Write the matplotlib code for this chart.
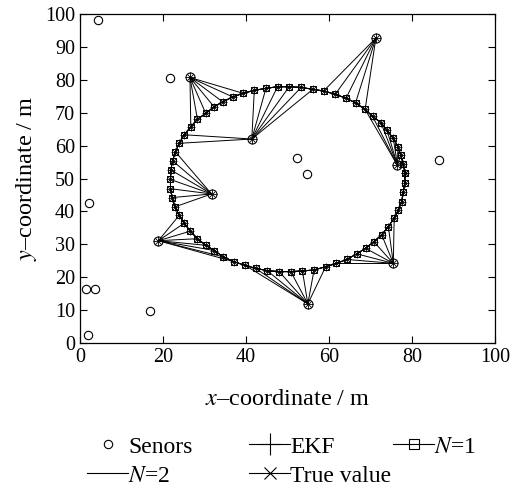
import matplotlib
matplotlib.use('Agg')
import matplotlib.pyplot as plt
from matplotlib.lines import Line2D

plt.rcParams['font.family'] = ['Liberation Serif', 'DejaVu Serif']
plt.rcParams['mathtext.fontset'] = 'stix'

# Trajectory points
traj_x = [78.3, 77.9, 77.3, 76.6, 75.5, 74.0, 72.5, 70.5, 68.7, 66.4, 64.1, 61.5, 58.7, 56.1, 53.3,
          50.4, 47.6, 44.8, 42.0, 39.3, 36.8, 34.4, 32.3, 30.3, 28.3, 26.7, 25.1, 23.9, 23.0, 22.3,
          21.9, 21.8, 21.8, 22.2, 22.9, 23.9, 25.1, 26.6, 28.3, 30.3, 32.4, 34.5, 37.1, 39.8, 42.3,
          45.1, 48.0, 50.8, 53.6, 56.4, 59.2, 61.8, 64.3, 66.7, 68.8, 70.8, 72.7, 74.3, 75.7, 76.7,
          77.5, 77.9, 78.3, 78.3]
traj_y = [51.6, 54.4, 57.1, 59.7, 62.2, 64.6, 67.0, 68.9, 71.0, 73.0, 74.4, 75.6, 76.6, 77.1, 77.7,
          77.9, 77.9, 77.4, 76.8, 75.9, 74.8, 73.3, 71.8, 69.8, 68.0, 65.7, 63.3, 60.7, 58.1, 55.4,
          52.6, 49.7, 46.9, 44.2, 41.4, 38.8, 36.4, 34.0, 31.7, 29.7, 28.1, 26.2, 24.7, 23.6, 22.7,
          22.0, 21.7, 21.7, 21.9, 22.2, 23.2, 24.2, 25.4, 27.1, 28.8, 30.8, 32.9, 35.4, 37.9, 40.4,
          42.9, 46.0, 48.7, 51.6]

# Sensors (free)
sensor_x = [4.3, 21.7, 2.2, 1.4, 3.6, 16.9, 1.9, 52.3, 54.7, 86.5]
sensor_y = [98.2, 80.5, 42.5, 16.4, 16.4, 9.7, 2.4, 56.2, 51.4, 55.6]

# Anchor sensors used for measurements
anchor_x = [26.5, 41.4, 71.3, 76.5, 31.7, 18.9, 54.9, 75.5]
anchor_y = [80.7, 62.0, 92.7, 54.0, 45.3, 31.1, 11.9, 24.2]
# trajectory point indices linked to each anchor
anchor_links = [
    list(range(19, 26)),
    list(range(13, 19)) + [26, 27],
    list(range(8, 13)),
    list(range(2, 9)),
    list(range(28, 35)),
    list(range(35, 43)),
    list(range(43, 51)),
    list(range(51, 59)),
]

fig = plt.figure(figsize=(5.14, 4.86), dpi=100)
ax = fig.add_axes([80 / 514, 1 - 343 / 486, 415 / 514, 329 / 486])

lw = 0.7
for axx, ayy, links in zip(anchor_x, anchor_y, anchor_links):
    for i in links:
        ax.plot([axx, traj_x[i]], [ayy, traj_y[i]], color='black', lw=lw)

ax.plot(traj_x, traj_y, color='black', lw=lw, marker='+', ms=6, mew=0.6)
ax.plot(traj_x, traj_y, color='black', lw=lw, marker='s', ms=5, mfc='none', mew=0.7)
ax.plot(traj_x, traj_y, color='black', lw=lw, marker='x', ms=4.5, mew=0.6)
ax.plot(traj_x, traj_y, color='black', lw=lw)

ax.plot(anchor_x, anchor_y, ls='none', marker='+', ms=7, mew=0.6, color='black')
ax.plot(anchor_x, anchor_y, ls='none', marker='x', ms=5, mew=0.6, color='black')
ax.plot(anchor_x, anchor_y, ls='none', marker='o', ms=6.5, mfc='none', mew=0.8, color='black')
ax.plot(sensor_x, sensor_y, ls='none', marker='o', ms=6, mfc='none', mew=0.8, color='black')

ax.set_xlim(0, 100)
ax.set_ylim(0, 100)
ax.set_xticks(range(0, 101, 20))
ax.set_yticks(range(0, 101, 10))
ax.tick_params(direction='in', top=True, right=True, length=5, width=0.8, labelsize=14.5)
for s in ax.spines.values():
    s.set_linewidth(0.9)

ax.set_xlabel('$x$\u2013coordinate / m', fontsize=17.5, labelpad=16)
ax.set_ylabel('$y$\u2013coordinate / m', fontsize=17.5, labelpad=4)

h_sen = Line2D([], [], ls='none', marker='o', ms=6, mfc='none', mew=0.8, color='black')
h_ekf = Line2D([], [], color='black', lw=0.8, marker='+', ms=16, mew=0.8)
h_n1 = Line2D([], [], color='black', lw=0.8, marker='s', ms=7, mfc='none', mew=0.8)
h_n2 = Line2D([], [], color='black', lw=0.8)
h_tv = Line2D([], [], color='black', lw=0.8, marker='x', ms=8, mew=0.8)

leg_cols = [([h_sen, h_n2], ['Senors', '$N$=2'], 87),
            ([h_ekf, h_tv], ['EKF', 'True value'], 249),
            ([h_n1], ['$N$=1'], 393)]
for hs, ls_, xpx in leg_cols:
    lg = fig.legend(hs, ls_, loc='upper left', bbox_to_anchor=(xpx / 514, 1 - 436 / 486),
                    frameon=False, fontsize=17, handlelength=1.75, handletextpad=0.0,
                    labelspacing=0.32, borderpad=0, borderaxespad=0)

fig.savefig('out.png', dpi=100)
